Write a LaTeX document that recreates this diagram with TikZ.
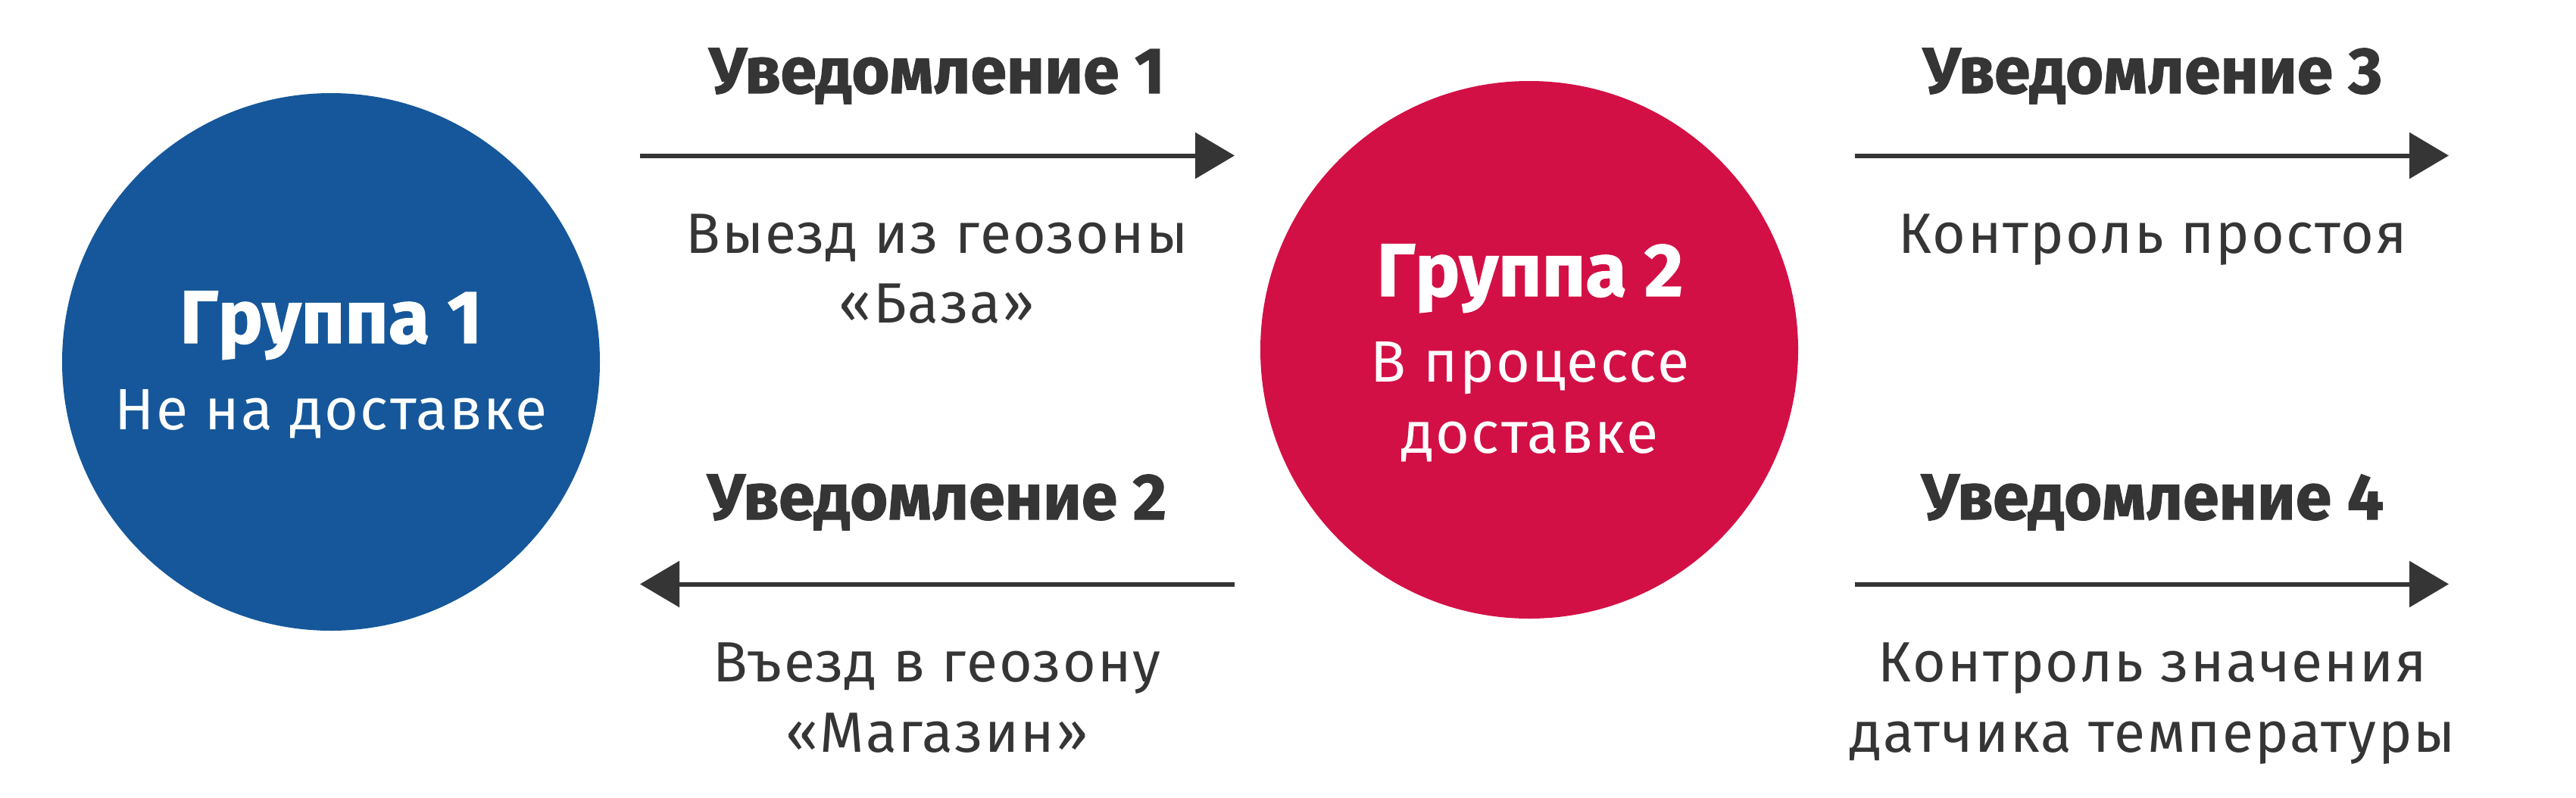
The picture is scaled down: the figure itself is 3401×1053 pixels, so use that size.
\documentclass[tikz,border=0pt]{standalone}
\usepackage{fontspec}
\setmainfont{Fira Sans}[BoldFeatures={FakeBold=1.2}]
\newfontfamily\descfont{Fira Sans}[LetterSpace=3]
\usetikzlibrary{arrows.meta}
\definecolor{gblue}{HTML}{15579A}
\definecolor{gred}{HTML}{D31045}
\definecolor{gdark}{HTML}{353535}
\begin{document}
\begin{tikzpicture}[x=1pt,y=-1pt,
 title/.style={anchor=base, inner sep=0pt, text=gdark, font=\fontsize{86}{90}\selectfont\bfseries},
 desc/.style={anchor=base, inner sep=0pt, text=gdark, font=\fontsize{75}{90}\descfont},
 gtitle/.style={anchor=base, inner sep=0pt, text=white, font=\fontsize{99}{100}\selectfont\bfseries},
 gdesc/.style={anchor=base, inner sep=0pt, text=white, font=\fontsize{77}{90}\descfont},
 conn/.style={draw=gdark, line width=6pt, -{Triangle[length=52pt,width=60pt]}},
 grp/.style={circle, minimum size=710pt, inner sep=0pt}]
\useasboundingbox (0,0) rectangle (3401,1053);
% groups
\node[grp, fill=gblue] (g1) at (437,478) {};
\node[grp, fill=gred] (g2) at (2019,462) {};
\node[gtitle] (g1t) at (437,453) {Группа 1};
\node[gdesc] (g1d) at (437,567) {Не на доставке};
\node[gtitle] (g2t) at (2020,391) {Группа 2};
\node[gdesc] (g2d1) at (2020,504) {В процессе};
\node[gdesc] (g2d2) at (2020,598) {доставке};
% connector end points
\coordinate (a1s) at (845,205.5);
\coordinate (a1e) at (1630,205.5);
\coordinate (a2s) at (1630,771.5);
\coordinate (a2e) at (845,771.5);
\coordinate (a3s) at (2449,205.5);
\coordinate (a3e) at (3233,205.5);
\coordinate (a4s) at (2449,771.5);
\coordinate (a4e) at (3233,771.5);
\draw[conn] (a1s) -- (a1e);
\draw[conn] (a2s) -- (a2e);
\draw[conn] (a3s) -- (a3e);
\draw[conn] (a4s) -- (a4e);
% labels
\node[title] (n1) at (1237,123) {Уведомление 1};
\node[desc] (n1a) at (1237,334) {Выезд из геозоны};
\node[desc] (n1b) at (1237,426) {«База»};
\node[title] (n2) at (1237,686) {Уведомление 2};
\node[desc] (n2a) at (1237,900) {Въезд в геозону};
\node[desc] (n2b) at (1237,993) {«Магазин»};
\node[title] (n3) at (2842,123) {Уведомление 3};
\node[desc] (n3a) at (2842,334) {Контроль простоя};
\node[title] (n4) at (2842,686) {Уведомление 4};
\node[desc] (n4a) at (2842,900) {Контроль значения};
\node[desc] (n4b) at (2842,993) {датчика температуры};
\end{tikzpicture}
\end{document}
